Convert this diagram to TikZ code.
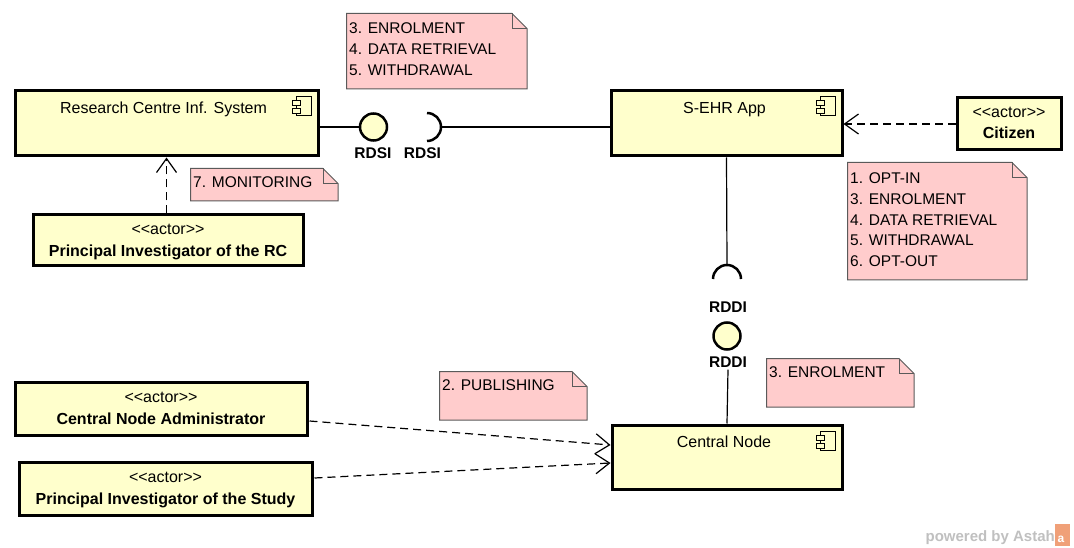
\documentclass[tikz,border=0pt]{standalone}
\usepackage{fontspec}
\setmainfont{Liberation Sans}
\usetikzlibrary{arrows.meta,calc}
\definecolor{boxfill}{RGB}{255,255,204}
\definecolor{notefill}{RGB}{255,204,204}
\definecolor{noteline}{RGB}{90,90,90}
\definecolor{wmgray}{RGB}{192,192,192}
\definecolor{astahorange}{RGB}{240,160,120}
\newcommand\notefr[4]{%
  \draw[notestyle] (#1,#2) -- (#3-15,#2) -- (#3,#2+15) -- (#3,#4) -- (#1,#4) -- cycle;
  \draw[notestyle,fill=none] (#3-15,#2) -- (#3-15,#2+15) -- (#3,#2+15);}
\newcommand\compicon[1]{%
  \draw[line width=1pt,fill=boxfill] ($(#1.north east)+(-23.5,7.5)$) rectangle ($(#1.north east)+(-8.5,26.5)$);
  \draw[line width=1pt,fill=boxfill] ($(#1.north east)+(-27,11.5)$) rectangle ($(#1.north east)+(-19,16.5)$);
  \draw[line width=1pt,fill=boxfill] ($(#1.north east)+(-27,19.5)$) rectangle ($(#1.north east)+(-19,24.5)$);}
\newcommand\actorst{<{}<actor>{}>}
\begin{document}
\begin{tikzpicture}[x=1pt,y=-1pt,
  comp/.style={draw,fill=boxfill,line width=3pt,inner sep=0pt},
  actorbox/.style={draw,fill=boxfill,line width=3pt,inner sep=0pt},
  ttl/.style={inner sep=0pt,anchor=base,font=\fontsize{16}{20}\selectfont},
  ttlb/.style={inner sep=0pt,anchor=base,font=\fontsize{16}{20}\selectfont\bfseries},
  notestyle/.style={draw=noteline,fill=notefill,line width=1pt},
  notetext/.style={inner sep=0pt,align=left,anchor=north west,font=\fontsize{15.5}{20.8}\selectfont},
  ifc/.style={circle,draw,fill=boxfill,line width=2.5pt,minimum size=27pt,inner sep=0pt},
  ifl/.style={inner sep=0pt,anchor=base,font=\fontsize{15.5}{18}\selectfont\bfseries},
  conn/.style={line width=1.2pt},
  dep/.style={line width=1.2pt,dash pattern=on 8pt off 5pt,-{Straight Barb[length=14pt,width=20pt,line width=1.2pt]}},
]
\fill[white] (0,0) rectangle (1074,548);
\useasboundingbox (0,0) rectangle (1074,548);

% notes
\notefr{346.5}{13.5}{527}{89}
\node[notetext] (noteA) at (349,22.5) {3. ENROLMENT\\4. DATA RETRIEVAL\\5. WITHDRAWAL};
\notefr{847.5}{162.5}{1027}{280}
\node[notetext] (noteB) at (850,172.5) {1. OPT-IN\\3. ENROLMENT\\4. DATA RETRIEVAL\\5. WITHDRAWAL\\6. OPT-OUT};
\notefr{190.5}{168.5}{338}{201}
\node[notetext] (noteC) at (193,176) {7. MONITORING};
\notefr{439.5}{371.5}{587}{420}
\node[notetext] (noteD) at (442,379) {2. PUBLISHING};
\notefr{766.5}{358.5}{914}{407}
\node[notetext] (noteE) at (769,366.5) {3. ENROLMENT};

% components
\node[comp,minimum width=303pt,minimum height=65pt] (rcis) at (166.5,123.5) {};
\node[ttl] (rcist) at ($(rcis.north)+(-3,24)$) {Research Centre Inf. System};
\compicon{rcis}
\node[comp,minimum width=231pt,minimum height=65pt] (sehr) at (726.5,123.5) {};
\node[ttl] (sehrt) at ($(sehr.north)+(-2,24)$) {S-EHR App};
\compicon{sehr}
\node[comp,minimum width=230pt,minimum height=64pt] (cn) at (727,457) {};
\node[ttl] (cnt) at ($(cn.north)+(-3,23.5)$) {Central Node};
\compicon{cn}

% actors
\node[actorbox,minimum width=104pt,minimum height=52pt] (cit) at (1009,124) {};
\node[ttl] (cita) at ($(cit.north)+(0,21.5)$) {\actorst};
\node[ttlb] (citn) at ($(cit.north)+(0,42.5)$) {Citizen};
\node[actorbox,minimum width=270pt,minimum height=51pt] (pirc) at (168,240.5) {};
\node[ttl] (pirca) at ($(pirc.north)+(0,21.5)$) {\actorst};
\node[ttlb] (pircn) at ($(pirc.north)+(0,43.5)$) {Principal Investigator of the RC};
\node[actorbox,minimum width=292pt,minimum height=53pt] (cna) at (161,408.5) {};
\node[ttl] (cnaa) at ($(cna.north)+(0,21.5)$) {\actorst};
\node[ttlb] (cnan) at ($(cna.north)+(0,43.5)$) {Central Node Administrator};
\node[actorbox,minimum width=293pt,minimum height=53pt] (pis) at (165.5,488.5) {};
\node[ttl] (pisa) at ($(pis.north)+(0,21.5)$) {\actorst};
\node[ttlb] (pisn) at ($(pis.north)+(0,43.5)$) {Principal Investigator of the Study};

% RDSI interface
\node[ifc] (rdsic) at (373.5,127) {};
\node[ifl] (rdsil1) at (373,158.5) {RDSI};
\node[ifl] (rdsil2) at (422.5,158.5) {RDSI};
\coordinate (rdsis) at (427,127);
\draw[conn] (rcis.east |- rdsic) -- (rdsic.west);
\draw[line width=2.5pt] ($(rdsis)+(0,-14)$) arc[start angle=90,end angle=-90,radius=14pt];
\draw[conn] ($(rdsis)+(14,0)$) -- (sehr.west |- rdsis);

% RDDI interface
\coordinate (rddis) at (727,279);
\draw[conn] (sehr.south) -- ($(rddis)+(0,-14)$);
\draw[line width=2.5pt] ($(rddis)+(-14,0)$) arc[start angle=180,end angle=0,radius=14pt];
\node[ifl] (rddil1) at (728,312.5) {RDDI};
\node[ifc] (rddic) at (727,336) {};
\node[ifl] (rddil2) at (728,367.5) {RDDI};
\draw[conn] ($(rddil2.south)+(0,2)$) -- (cn.north);

% dependencies
\draw[dep] (cit.west) -- (sehr.east |- cit.west);
\draw[dep] (pirc.north -| rcis.south) -- (rcis.south);
\draw[dep] ($(cna.east)+(1,12.5)$) -- ($(cn.west)+(0,-12)$);
\draw[dep] ($(pis.east)+(1,-10.5)$) -- ($(cn.west)+(0,6)$);

% watermark
\node[inner sep=0pt,anchor=base east,text=wmgray,font=\fontsize{15}{16}\selectfont\bfseries] (wm) at (1055,541) {powered by Astah};
\fill[astahorange] (1055,524) rectangle (1070,546);
\node[inner sep=0pt,text=white,font=\fontsize{12}{12}\selectfont\bfseries] (wmlogo) at (1061,539) {a};
\end{tikzpicture}
\end{document}
